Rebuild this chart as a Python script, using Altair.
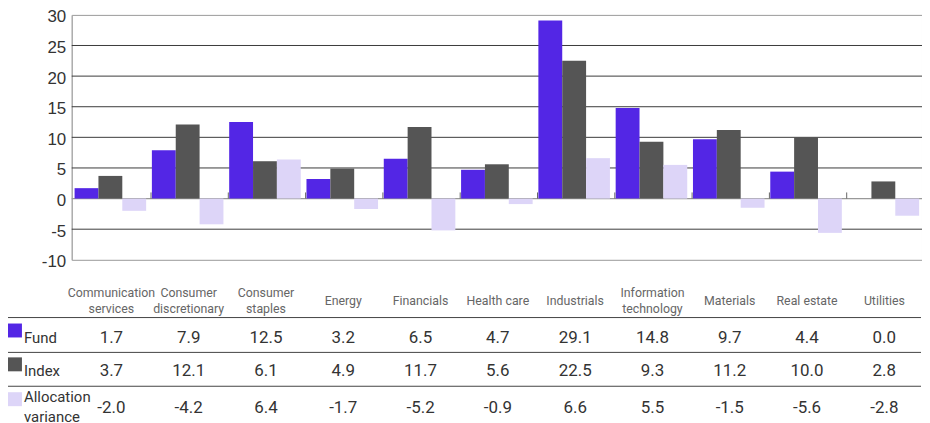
import altair as alt
import pandas as pd

categories = ["Communication services", "Consumer discretionary", "Consumer staples", "Energy",
              "Financials", "Health care", "Industrials", "Information technology",
              "Materials", "Real estate", "Utilities"]
category_labels = ["Communication\nservices", "Consumer\ndiscretionary", "Consumer\nstaples", "Energy",
                   "Financials", "Health care", "Industrials", "Information\ntechnology",
                   "Materials", "Real estate", "Utilities"]
series = ["Fund", "Index", "Allocation variance"]
series_labels = ["Fund", "Index", "Allocation\nvariance"]
fund = [1.7, 7.9, 12.5, 3.2, 6.5, 4.7, 29.1, 14.8, 9.7, 4.4, 0.0]
index = [3.7, 12.1, 6.1, 4.9, 11.7, 5.6, 22.5, 9.3, 11.2, 10.0, 2.8]
alloc = [-2.0, -4.2, 6.4, -1.7, -5.2, -0.9, 6.6, 5.5, -1.5, -5.6, -2.8]
colors = ["#5326e5", "#555555", "#ddd5f8"]
y_ticks = [-10, -5, 0, 5, 10, 15, 20, 25, 30]
grid_values = [-5, 5, 10, 15, 20, 25]

values_by_series = {"Fund": fund, "Index": index, "Allocation variance": alloc}
rows = []
for s in series:
    for c, v in zip(categories, values_by_series[s]):
        rows.append({"cat": c, "series": s, "value": v, "txt": f"{v:.1f}"})
df = pd.DataFrame(rows)
cat_df = pd.DataFrame({"cat": categories, "label": category_labels})
cat_df["lines"] = cat_df["label"].str.count("\n") + 1

TABLE_FONT = "Roboto"
AXIS_FONT = "Liberation Sans"

x_scale = alt.Scale(domain=categories, paddingInner=0, paddingOuter=0)
y_scale = alt.Scale(domain=[-10, 30], nice=False, zero=False)
color_scale = alt.Scale(domain=series, range=colors)
y_axis = alt.Axis(values=y_ticks, grid=False, ticks=False, domain=True,
                  domainColor="#aaaaaa", labelFontSize=17, labelColor="#333333",
                  labelFont=AXIS_FONT, labelPadding=6, labelOverlap=False,
                  labelOffset=2, labelExpr="'' + datum.value", title=None)

def X(**kw):
    return alt.X("cat:N", scale=x_scale, axis=None, sort=categories, **kw)

grid = alt.Chart(pd.DataFrame({"v": grid_values})).mark_rule(color="#3a3a3a", strokeWidth=1).encode(
    y=alt.Y("v:Q", scale=y_scale, axis=y_axis, title=None)
)
zero = alt.Chart(pd.DataFrame({"v": [0]})).mark_rule(color="#999999", strokeWidth=1.2).encode(
    y=alt.Y("v:Q", scale=y_scale, axis=y_axis, title=None)
)
bars = alt.Chart(df).mark_bar(xOffset=2).encode(
    x=X(),
    xOffset=alt.XOffset("series:N", sort=series,
                        scale=alt.Scale(domain=series, paddingOuter=0.12, paddingInner=0)),
    y=alt.Y("value:Q", scale=y_scale, axis=y_axis, title=None),
    color=alt.Color("series:N", scale=color_scale, legend=None),
)
cat_ticks = alt.Chart(cat_df.iloc[1:]).transform_calculate(z0="0", z1="1").mark_rule(
    color="#666666", strokeWidth=1, xOffset=2
).encode(
    x=X(bandPosition=0),
    y=alt.Y("z0:Q", scale=y_scale, axis=y_axis, title=None),
    y2="z1:Q",
)

cat_text_1 = alt.Chart(cat_df).transform_filter("datum.lines == 1").mark_text(
    font=TABLE_FONT, fontSize=12.4, color="#666666", baseline="middle", dx=1
).encode(x=X(), y=alt.value(287), text="label:N")
cat_text_2 = alt.Chart(cat_df).transform_filter("datum.lines == 2").mark_text(
    font=TABLE_FONT, fontSize=12.4, color="#666666", lineBreak="\n", baseline="middle",
    lineHeight=16, dx=1
).encode(x=X(), y=alt.value(279.5), text="label:N")

layers = [grid, zero, bars, cat_ticks, cat_text_1, cat_text_2]

row_y = [325, 358, 395]
swatch_y = [317, 351, 386]
label_y = [325, 358, 384]
line_y = [304, 339, 373]

for ly in line_y:
    layers.append(
        alt.Chart(pd.DataFrame({"a": [0]})).mark_rule(color="#444444", strokeWidth=1).encode(
            x=alt.value(-64), x2=alt.value(853), y=alt.value(ly)
        )
    )

for i, s in enumerate(series):
    sub = df[df["series"] == s]
    layers.append(
        alt.Chart(sub).mark_text(font=TABLE_FONT, fontSize=17, color="#333333",
                                 baseline="middle", dx=1).encode(
            x=X(), y=alt.value(row_y[i]), text="txt:N")
    )
    layers.append(
        alt.Chart(pd.DataFrame({"series": [s]})).mark_square(size=196, opacity=1).encode(
            x=alt.value(-57), y=alt.value(swatch_y[i]),
            color=alt.Color("series:N", scale=color_scale, legend=None))
    )
    layers.append(
        alt.Chart(pd.DataFrame({"series": [s], "label": [series_labels[i]]})).mark_text(
            font=TABLE_FONT, fontSize=15, color="#333333", align="left", baseline="middle",
            lineBreak="\n", lineHeight=20
        ).encode(x=alt.value(-48), y=alt.value(label_y[i]), text="label:N")
    )

chart = alt.layer(*layers).properties(
    width=854, height=246,
    padding={"left": 64, "top": 6, "right": 0, "bottom": 163},
    autosize=alt.AutoSizeParams(type="none"),
).configure_view(stroke="#999999", strokeWidth=1)

chart.save("out.html", embed_options={"renderer": "svg", "actions": False})
